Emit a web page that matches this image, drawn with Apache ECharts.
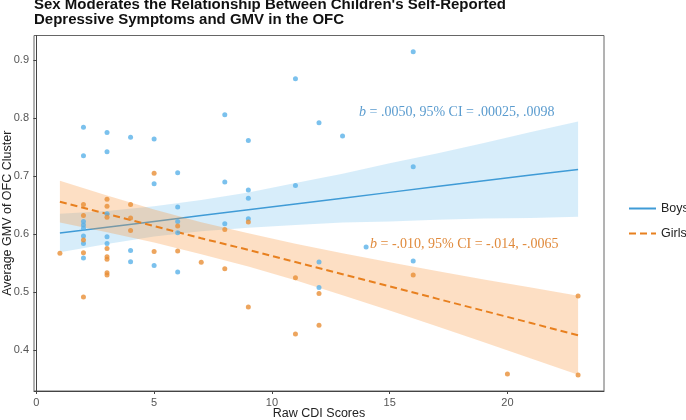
<!DOCTYPE html>
<html>
<head>
<meta charset="utf-8">
<script src="https://cdn.jsdelivr.net/npm/echarts@6/dist/echarts.min.js"></script>
<style>html,body{margin:0;padding:0;background:#fff;}#c{width:686px;height:420px;}</style>
</head>
<body>
<div id="c"></div>
<script>
// ---- data ----
const titleText = "Sex Moderates the Relationship Between Children's Self-Reported\nDepressive Symptoms and GMV in the OFC";
const xTicks = [0, 5, 10, 15, 20];
const yTicks = [0.4, 0.5, 0.6, 0.7, 0.8, 0.9];

const boysPoints = [
  [2,0.784],[3,0.775],[4,0.767],[5,0.764],[2,0.735],[3,0.742],[5,0.687],[3,0.635],
  [2,0.622],[2,0.616],[2,0.610],[2,0.597],[2,0.584],[3,0.5955],[3,0.584],[2,0.559],
  [4,0.572],[4,0.5525],[5,0.546],[6,0.706],[6,0.647],[6,0.622],[6,0.6025],[6,0.535],
  [8,0.8055],[8,0.690],[8,0.618],[9,0.7615],[9,0.676],[9,0.662],[9,0.6265],
  [11,0.8675],[11,0.684],[12,0.792],[12,0.552],[12,0.508],[13,0.769],[14,0.578],
  [16,0.914],[16,0.716],[16,0.554]
];
const girlsPoints = [
  [1,0.567],[2,0.651],[2,0.632],[2,0.590],[2,0.568],[2,0.492],[3,0.660],[3,0.648],
  [3,0.629],[3,0.5755],[3,0.561],[3,0.557],[3,0.5335],[3,0.5295],[4,0.651],[4,0.628],
  [4,0.6065],[5,0.705],[5,0.570],[6,0.614],[6,0.571],[7,0.5515],[8,0.608],[8,0.5405],
  [9,0.621],[9,0.4745],[11,0.525],[11,0.428],[12,0.498],[12,0.443],[16,0.5296],
  [20,0.359],[23,0.4935],[23,0.3575]
];

const fitX     = [1, 3, 5, 7, 9, 11, 13, 15, 17, 19, 21, 23];
const boysFit  = [0.602, 0.612, 0.622, 0.632, 0.642, 0.652, 0.662, 0.672, 0.682, 0.692, 0.702, 0.7115];
const boysLo   = [0.569, 0.583, 0.596, 0.605, 0.611, 0.616, 0.620, 0.622, 0.625, 0.627, 0.628, 0.630];
const boysHi   = [0.635, 0.640, 0.648, 0.659, 0.672, 0.688, 0.704, 0.722, 0.739, 0.757, 0.776, 0.794];
const girlsFit = [0.656, 0.635, 0.614, 0.593, 0.573, 0.552, 0.531, 0.510, 0.489, 0.468, 0.447, 0.426];
const girlsLo  = [0.620, 0.6035, 0.5855, 0.5656, 0.5445, 0.5205, 0.495, 0.4685, 0.4414, 0.4139, 0.386, 0.358];
const girlsHi  = [0.692, 0.6665, 0.6425, 0.6204, 0.6015, 0.5835, 0.567, 0.5515, 0.5366, 0.5221, 0.508, 0.494];

const boysNote  = "= .0050, 95% CI = .00025, .0098";
const girlsNote = "= -.010, 95% CI = -.014, -.0065";

// ---- chart ----
const FONT = "'Liberation Sans', Arial, sans-serif";
const SERIF = "'Liberation Serif', 'Times New Roman', serif";
const chart = echarts.init(document.getElementById('c'), null, {renderer: 'canvas'});

function band(name, lo, hi, color, z) {
  return {
    type: 'custom', name: name, silent: true, z: z,
    data: fitX.map((x, i) => [x, lo[i], hi[i]]),
    encode: {x: 0, y: [1, 2]},
    renderItem: function (params, api) {
      if (params.dataIndex !== 0) return;
      const pts = [];
      for (let i = 0; i < fitX.length; i++) pts.push(api.coord([fitX[i], hi[i]]));
      for (let i = fitX.length - 1; i >= 0; i--) pts.push(api.coord([fitX[i], lo[i]]));
      return {type: 'polygon', shape: {points: pts}, style: {fill: color}};
    }
  };
}

chart.setOption({
  animation: false,
  backgroundColor: '#ffffff',
  title: {
    text: titleText, left: 34, top: -3, padding: 0,
    textStyle: {fontFamily: FONT, fontSize: 15, fontWeight: 'bold', color: '#111', lineHeight: 15.5}
  },
  grid: {left: 34, right: 82, top: 35.5, bottom: 29, show: true, borderColor: '#666', borderWidth: 1,
         backgroundColor: 'transparent', containLabel: false, outerBoundsMode: 'none'},
  legend: {
    orient: 'vertical', left: 623, top: 197, itemWidth: 27, itemHeight: 14, itemGap: 12,
    textStyle: {fontFamily: FONT, fontSize: 12.5, color: '#222'},
    itemStyle: {opacity: 0},
    data: [{name: 'Boys', itemStyle: {opacity: 0}}, {name: 'Girls', itemStyle: {opacity: 0}}]
  },
  xAxis: {
    type: 'value', min: -0.1, max: 24.1,
    name: 'Raw CDI Scores', nameLocation: 'middle', nameGap: 16.5, nameMoveOverlap: false,
    nameTextStyle: {fontFamily: FONT, fontSize: 12.5, color: '#222'},
    axisLine: {show: true, lineStyle: {color: '#444', width: 1}},
    axisTick: {show: true, length: 3, lineStyle: {color: '#444'}, customValues: xTicks},
    axisLabel: {fontFamily: FONT, fontSize: 11, color: '#555', margin: 6.5, customValues: xTicks},
    splitLine: {show: false}
  },
  yAxis: {
    type: 'value', min: 0.3299, max: 0.9422,
    name: 'Average GMV of OFC Cluster', nameLocation: 'middle', nameGap: 20, nameMoveOverlap: false,
    nameTextStyle: {fontFamily: FONT, fontSize: 12.5, color: '#222'},
    axisLine: {show: true, lineStyle: {color: '#444', width: 1}},
    axisTick: {show: true, length: 3, lineStyle: {color: '#444'}, customValues: yTicks},
    axisLabel: {fontFamily: FONT, fontSize: 11, color: '#555', margin: 5, customValues: yTicks,
      formatter: v => v.toFixed(1)},
    splitLine: {show: false}
  },
  graphic: [
    {type: 'text', left: 359, top: 105, z: 100,
     style: {text: '{i|b} ' + boysNote, fill: '#5b9ccf', font: '14px ' + SERIF,
       rich: {i: {fontStyle: 'italic', fontFamily: SERIF, fontSize: 14, fill: '#5b9ccf'}}}},
    {type: 'text', left: 370, top: 237, z: 100,
     style: {text: '{i|b} ' + girlsNote, fill: '#e08a3c', font: '14px ' + SERIF,
       rich: {i: {fontStyle: 'italic', fontFamily: SERIF, fontSize: 14, fill: '#e08a3c'}}}}
  ],
  series: [
    band('boysBand', boysLo, boysHi, 'rgba(86,180,233,0.24)', 2),
    {type: 'line', name: 'Boys', z: 3, data: fitX.map((x, i) => [x, boysFit[i]]),
     symbol: 'none', showSymbol: false, lineStyle: {color: '#3f9bd6', width: 1.5}, itemStyle: {color: '#3f9bd6'}},
    band('girlsBand', girlsLo, girlsHi, 'rgba(249,150,60,0.30)', 4),
    {type: 'line', name: 'Girls', z: 5, data: fitX.map((x, i) => [x, girlsFit[i]]),
     symbol: 'none', showSymbol: false, lineStyle: {color: '#e8801f', width: 2, type: [7, 4]}, itemStyle: {color: '#e8801f'}},
    {type: 'scatter', name: 'boysPts', z: 6, data: boysPoints, symbolSize: 5,
     itemStyle: {color: '#5ab2e8', opacity: 0.8}},
    {type: 'scatter', name: 'girlsPts', z: 6, data: girlsPoints, symbolSize: 5,
     itemStyle: {color: '#e88f36', opacity: 0.8}}
  ]
});
</script>
</body>
</html>
